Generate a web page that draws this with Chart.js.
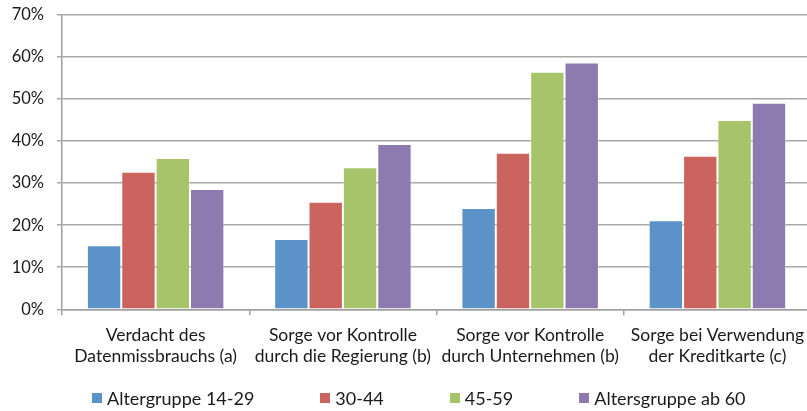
<!DOCTYPE html>
<html>
<head>
<meta charset="utf-8">
<script src="https://cdn.jsdelivr.net/npm/chart.js@4"></script>
<style>
  html, body { margin: 0; padding: 0; background: #fff; overflow: hidden; }
  #wrap { position: relative; width: 813px; height: 411px; }
  #c { position: absolute; left: 0; top: -8px; }
  #legend { position: absolute; left: 92px; top: 387px; display: flex; align-items: center;
            font-family: Lato, "Liberation Sans", sans-serif; font-size: 18px; color: #1a1a1a; white-space: nowrap; }
  .item { display: flex; align-items: center; margin-right: 66px; }
  .box { width: 10px; height: 10px; margin-right: 5px; }
</style>
</head>
<body>
<div id="wrap">
  <canvas id="c" width="813" height="419"></canvas>
  <div id="legend"></div>
</div>
<script>
const categories = [
  ["Verdacht des", "Datenmissbrauchs (a)"],
  ["Sorge vor Kontrolle", "durch die Regierung (b)"],
  ["Sorge vor Kontrolle", "durch Unternehmen (b)"],
  ["Sorge bei Verwendung", "der Kreditkarte (c)"]
];
const seriesNames = ["Altergruppe 14-29", "30-44", "45-59", "Altersgruppe ab 60"];
const age14_29 = [15.2, 16.7, 24.1, 21.2];
const age30_44 = [32.7, 25.6, 37.2, 36.5];
const age45_59 = [36.0, 33.8, 56.5, 45.0];
const age60plus = [28.6, 39.3, 58.7, 49.1];
const yTicks = [0, 10, 20, 30, 40, 50, 60, 70];

const colors = ["#5B92C7", "#CB635F", "#A8C46A", "#8D7AAE"];
const seriesValues = [age14_29, age30_44, age45_59, age60plus];

const fontFamily = 'Lato, "Liberation Sans", sans-serif';

new Chart(document.getElementById('c'), {
  type: 'bar',
  data: {
    labels: categories,
    datasets: seriesValues.map((vals, i) => ({
      label: seriesNames[i],
      data: vals,
      backgroundColor: colors[i],
      borderColor: 'rgba(255,255,255,0.35)',
      borderWidth: 1,
      barPercentage: 1,
      categoryPercentage: 0.734
    }))
  },
  options: {
    responsive: false,
    animation: false,
    layout: { padding: { top: 0, right: 0, bottom: 35, left: 0 } },
    plugins: { legend: { display: false }, tooltip: { enabled: false } },
    scales: {
      x: {
        grid: { display: true, drawOnChartArea: false, drawTicks: true, tickLength: 6, color: '#a0a0a0', lineWidth: 1.5 },
        border: { display: true, color: '#a0a0a0', width: 1.5 },
        ticks: { color: '#1a1a1a', padding: 9, maxRotation: 0, autoSkip: false,
                 font: { family: fontFamily, size: 17.5, lineHeight: 1.22 } }
      },
      y: {
        min: 0, max: 70,
        afterFit: (s) => { s.width = 62; },
        afterBuildTicks: (s) => { s.ticks = yTicks.map(v => ({ value: v })); },
        grid: { color: '#a8a8a8', lineWidth: 1.5, drawTicks: true, tickLength: 5 },
        border: { display: true, color: '#a0a0a0', width: 1.5 },
        ticks: { color: '#1a1a1a', padding: 13, stepSize: 10,
                 callback: (v) => v + '%',
                 font: { family: fontFamily, size: 16.5 } }
      }
    }
  }
});

const legend = document.getElementById('legend');
seriesNames.forEach((name, i) => {
  const item = document.createElement('div');
  item.className = 'item';
  const box = document.createElement('span');
  box.className = 'box';
  box.style.background = colors[i];
  const txt = document.createElement('span');
  txt.textContent = name;
  item.appendChild(box);
  item.appendChild(txt);
  legend.appendChild(item);
});
</script>
</body>
</html>
